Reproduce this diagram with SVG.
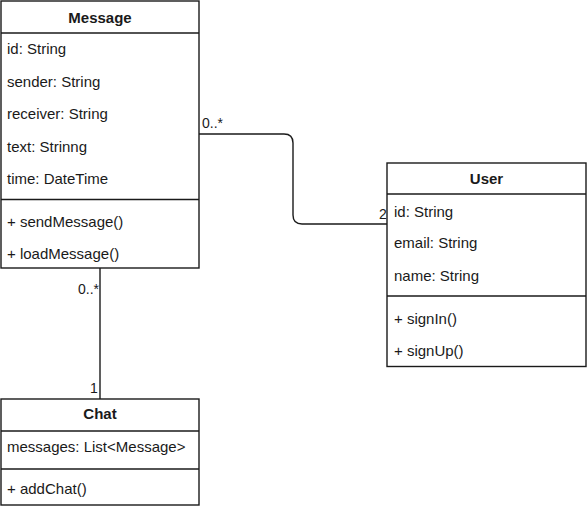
<svg xmlns="http://www.w3.org/2000/svg" width="588" height="510" viewBox="0 0 588 510">
  <style>
    .box { fill: #ffffff; stroke: #1a1a1a; stroke-width: 1.4; }
    .sep { stroke: #1a1a1a; stroke-width: 1.4; fill: none; }
    .title { font-family: "Liberation Sans", Arial, sans-serif; font-size: 15px; font-weight: bold; fill: #1a1a1a; text-anchor: middle; }
    .attr { font-family: "Liberation Sans", Arial, sans-serif; font-size: 15px; fill: #1a1a1a; }
    .edge { stroke: #1a1a1a; stroke-width: 1.4; fill: none; }
    .mult { font-family: "Liberation Sans", Arial, sans-serif; font-size: 14px; fill: #1a1a1a; }
  </style>
  <rect width="588" height="510" fill="#ffffff"/>

  <!-- associations -->
  <g id="connectors">
    <path class="edge" d="M199 134 H284 Q293 134 293 143 V215 Q293 224 302 224 H387"/>
    <text class="mult" x="202" y="128">0..*</text>
    <text class="mult" x="379" y="219">2</text>
    <path class="edge" d="M100 268 V399"/>
    <text class="mult" x="99" y="294" text-anchor="end">0..*</text>
    <text class="mult" x="90" y="393">1</text>
  </g>

  <!-- Message class -->
  <g id="message">
    <rect class="box" x="1" y="1" width="198" height="267"/>
    <line class="sep" x1="1" y1="33" x2="199" y2="33"/>
    <line class="sep" x1="1" y1="199.5" x2="199" y2="199.5"/>
    <text class="title" x="100" y="22.5">Message</text>
    <text class="attr" x="7" y="54">id: String</text>
    <text class="attr" x="7" y="86.5">sender: String</text>
    <text class="attr" x="7" y="119">receiver: String</text>
    <text class="attr" x="7" y="151.5">text: Strinng</text>
    <text class="attr" x="7" y="184">time: DateTime</text>
    <text class="attr" x="7" y="226.5">+ sendMessage()</text>
    <text class="attr" x="7" y="259">+ loadMessage()</text>
  </g>

  <!-- User class -->
  <g id="user">
    <rect class="box" x="387" y="163" width="199" height="203.5"/>
    <line class="sep" x1="387" y1="194" x2="586" y2="194"/>
    <line class="sep" x1="387" y1="296" x2="586" y2="296"/>
    <text class="title" x="486.5" y="183.5">User</text>
    <text class="attr" x="394" y="217">id: String</text>
    <text class="attr" x="394" y="248">email: String</text>
    <text class="attr" x="394" y="281">name: String</text>
    <text class="attr" x="394" y="324">+ signIn()</text>
    <text class="attr" x="394" y="356">+ signUp()</text>
  </g>

  <!-- Chat class -->
  <g id="chat">
    <rect class="box" x="1" y="399" width="198" height="106"/>
    <line class="sep" x1="1" y1="431" x2="199" y2="431"/>
    <line class="sep" x1="1" y1="469" x2="199" y2="469"/>
    <text class="title" x="100" y="419">Chat</text>
    <text class="attr" x="7" y="452">messages: List&lt;Message&gt;</text>
    <text class="attr" x="7" y="494">+ addChat()</text>
  </g>
</svg>
